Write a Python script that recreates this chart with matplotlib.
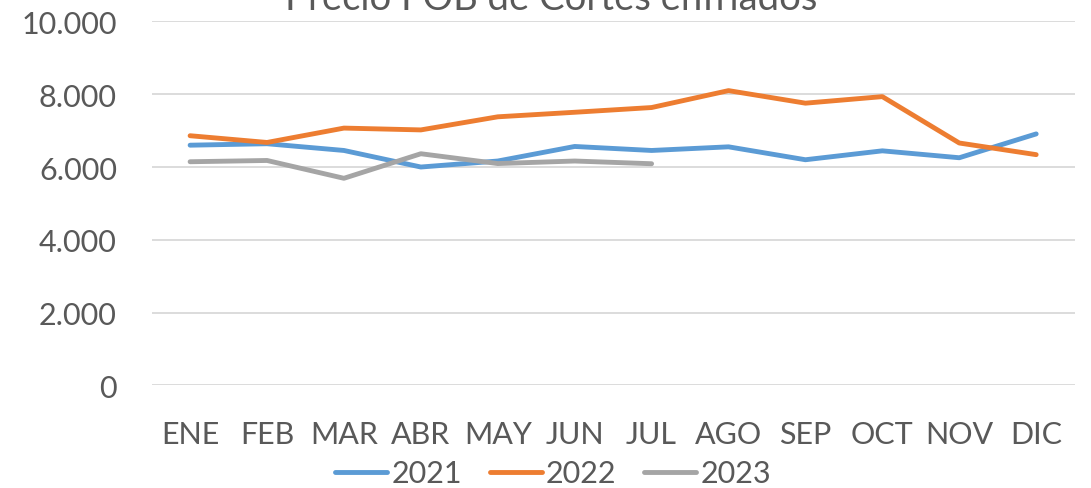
import matplotlib
matplotlib.use("Agg")
import matplotlib.pyplot as plt

months = ["ENE", "FEB", "MAR", "ABR", "MAY", "JUN", "JUL", "AGO", "SEP", "OCT", "NOV", "DIC"]
v2021 = [6600, 6640, 6455, 6000, 6165, 6565, 6455, 6555, 6200, 6445, 6255, 6910]
v2022 = [6860, 6675, 7070, 7020, 7380, 7505, 7635, 8100, 7755, 7935, 6660, 6340]
v2023 = [6145, 6180, 5690, 6365, 6095, 6165, 6090]
yticks = [0, 2000, 4000, 6000, 8000, 10000]
ylabels = ["0", "2.000", "4.000", "6.000", "8.000", "10.000"]

plt.rcParams['font.family'] = ['Lato', 'DejaVu Sans']
txt = "#595959"

fig = plt.figure(figsize=(10.91, 4.89), dpi=100)
ax = fig.add_axes([0.139, 0.21, 0.846, 0.744])

x = list(range(len(months)))
ax.plot(x, v2021, color="#5B9BD5", lw=3.5, solid_capstyle="round", label="2021")
ax.plot(x, v2022, color="#ED7D31", lw=3.5, solid_capstyle="round", label="2022")
ax.plot(x[:len(v2023)], v2023, color="#A5A5A5", lw=3.5, solid_capstyle="round", label="2023")

ax.set_xlim(-0.5, 11.5)
ax.set_ylim(0, 10000)
ax.set_yticks(yticks)
ax.set_yticklabels(ylabels)
ax.set_xticks(x)
ax.set_xticklabels(months)
ax.grid(axis="y", color="#D9D9D9", lw=1.3)
ax.set_axisbelow(True)
for s in ax.spines.values():
    s.set_visible(False)
ax.tick_params(axis="both", length=0, labelsize=22, labelcolor=txt)
ax.tick_params(axis="x", pad=25)
ax.tick_params(axis="y", pad=25)

fig.text(0.505, 1 - 10 / 489, "Precio FOB de Cortes enfriados", ha="center", va="baseline",
         fontsize=27.5, color=txt)

leg = fig.legend(loc="center", bbox_to_anchor=(0.507, 0.03), ncol=3, frameon=False,
                 fontsize=22, handlelength=1.7, handletextpad=0.15, columnspacing=0.9,
                 borderpad=0.1)
for t in leg.get_texts():
    t.set_color(txt)

fig.savefig("out.png", dpi=100)
